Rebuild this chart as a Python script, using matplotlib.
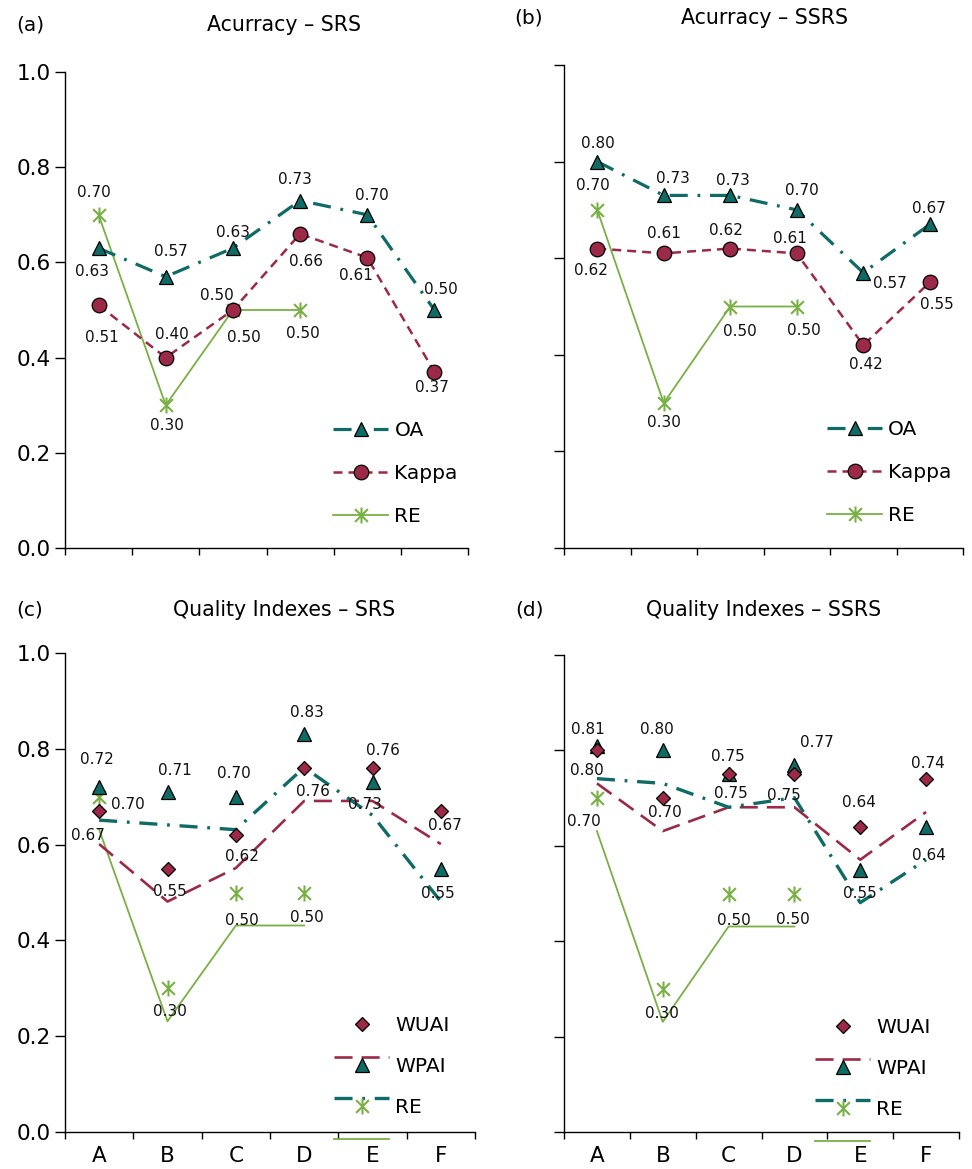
import matplotlib
matplotlib.use("Agg")
import matplotlib.pyplot as plt
from matplotlib.lines import Line2D
from matplotlib.path import Path
from matplotlib.legend_handler import HandlerLine2DCompound
from matplotlib.transforms import Affine2D, ScaledTranslation
import numpy as np

plt.rcParams['font.family'] = ['DejaVu Sans']
plt.rcParams['lines.scale_dashes'] = False

# ---- data ----
categories = ['A', 'B', 'C', 'D', 'E', 'F']

srs_oa = [0.63, 0.57, 0.63, 0.73, 0.70, 0.50]
srs_kappa = [0.51, 0.40, 0.50, 0.66, 0.61, 0.37]
srs_re = [0.70, 0.30, 0.50, 0.50]

ssrs_oa = [0.80, 0.73, 0.73, 0.70, 0.57, 0.67]
ssrs_kappa = [0.62, 0.61, 0.62, 0.61, 0.42, 0.55]
ssrs_re = [0.70, 0.30, 0.50, 0.50]

srs_wuai = [0.67, 0.55, 0.62, 0.76, 0.76, 0.67]
srs_wpai = [0.72, 0.71, 0.70, 0.83, 0.73, 0.55]
ssrs_wuai = [0.80, 0.70, 0.75, 0.75, 0.64, 0.74]
ssrs_wpai = [0.81, 0.80, 0.75, 0.77, 0.55, 0.64]

y_ticks = [0.0, 0.2, 0.4, 0.6, 0.8, 1.0]

# ---- styles ----
TEAL = '#0f6b65'
CRIMSON = '#9b2947'
GREEN = '#79b044'
W, H = 972, 1169
DASHDOT = (0, (13, 7, 2, 7))
DASH_K = (0, (6.5, 4.3))
DASH_LONG = (0, (13, 6.5))

# star marker: vertical bar crossed by an X
STAR = Path([(0, -1), (0, 1), (-0.8, -0.8), (0.8, 0.8), (-0.8, 0.8), (0.8, -0.8)],
            [Path.MOVETO, Path.LINETO, Path.MOVETO, Path.LINETO, Path.MOVETO, Path.LINETO])
STAR_KW = dict(marker=STAR, ms=11.5, mec=GREEN, mfc='none', mew=1.5)

fig = plt.figure(figsize=(W / 100, H / 100), dpi=100)


def px_rect(l, t, r, b):
    return [l / W, 1 - b / H, (r - l) / W, (b - t) / H]


def fig_text(x, y, s, **kw):
    fig.text(x / W, 1 - y / H, s, ha='center', va='center', **kw)


def setup_axes(rect, ylabels, xlabels):
    ax = fig.add_axes(px_rect(*rect))
    ax.set_xlim(-0.5, len(categories) - 0.5)
    ax.set_ylim(0, 1.0)
    for s in ('top', 'right'):
        ax.spines[s].set_visible(False)
    for s in ('left', 'bottom'):
        ax.spines[s].set_linewidth(1.0)
    ax.set_yticks(y_ticks)
    if ylabels:
        ax.set_yticklabels([f'{v:.1f}' for v in y_ticks], fontsize=15.5)
    else:
        ax.set_yticklabels([])
    ax.tick_params(axis='y', direction='out', length=7, width=1, pad=3)
    edges = np.arange(len(categories) + 1) - 0.5
    ax.set_xticks(edges)
    ax.set_xticklabels([])
    ax.tick_params(axis='x', which='major', direction='out', length=5, width=1)
    ax.set_xticks(np.arange(len(categories)), minor=True)
    if xlabels:
        ax.set_xticklabels(categories, minor=True, fontsize=15.5)
    ax.tick_params(axis='x', which='minor', length=0, pad=10)
    return ax


def put_labels(ax, values, offsets):
    for i, (v, off) in enumerate(zip(values, offsets)):
        if off is None:
            continue
        ax.annotate(f'{v:.2f}', (i, v), xytext=off, textcoords='offset pixels',
                    ha='center', va='center', fontsize=11, color='#111111')


class ShiftedLineHandler(HandlerLine2DCompound):
    """Legend handle whose line part sits lower than its marker."""

    def __init__(self, shift_pt, **kw):
        super().__init__(**kw)
        self.shift_pt = shift_pt

    def create_artists(self, legend, orig_handle, xdescent, ydescent,
                       width, height, fontsize, trans):
        arts = super().create_artists(legend, orig_handle, xdescent, ydescent,
                                      width, height, fontsize, trans)
        arts[0].set_transform(Affine2D().translate(0, -self.shift_pt) + trans)
        return arts


# ---------------- accuracy panels ----------------
def accuracy_panel(rect, oa, kappa, re, ylabels, offs, legend_anchor):
    ax = setup_axes(rect, ylabels, False)
    x6 = np.arange(len(oa))
    x4 = np.arange(len(re))
    l_re, = ax.plot(x4, re, color=GREEN, lw=1.3, zorder=3, label='RE', **STAR_KW)
    l_k, = ax.plot(x6, kappa, color=CRIMSON, lw=1.8, linestyle=DASH_K, marker='o',
                   ms=10.5, mfc=CRIMSON, mec='black', mew=0.9, zorder=4, label='Kappa')
    l_oa, = ax.plot(x6, oa, color=TEAL, lw=2.3, linestyle=DASHDOT, marker='^',
                    ms=9.5, mfc=TEAL, mec='black', mew=0.9, zorder=5, label='OA')
    put_labels(ax, oa, offs['oa'])
    put_labels(ax, kappa, offs['kappa'])
    put_labels(ax, re, offs['re'])
    ax.legend(handles=[l_oa, l_k, l_re], loc='upper left', bbox_to_anchor=legend_anchor,
              frameon=False, fontsize=14.5, numpoints=1, handlelength=2.75,
              handletextpad=0.3, labelspacing=1.2, borderpad=0, borderaxespad=0)
    return ax


offs_a = {
    'oa': [(-7, -23), (5, 25), (0, 16), (-5, 21), (5, 19), (6, 20)],
    'kappa': [(3, -32), (6, 23), (-16, 14), (6, -28), (-11, -18), (-2, -16)],
    're': [(-5, 22), (1, -20), (11, -27), (3, -23)],
}
offs_b = {
    'oa': [(1, 18), (9, 17), (3, 15), (5, 19), (27, -11), (-1, 16)],
    'kappa': [(-6, -22), (0, 20), (-4, 18), (-7, 15), (3, -19), (7, -22)],
    're': [(-4, 24), (0, -19), (10, -25), (7, -24)],
}

accuracy_panel((65, 72, 468, 548), srs_oa, srs_kappa, srs_re, True, offs_a, (0.665, 0.267))
accuracy_panel((564, 65, 963, 548), ssrs_oa, ssrs_kappa, ssrs_re, False, offs_b, (0.659, 0.265))

# ---------------- quality index panels ----------------
LINE_DROP_PX = 33


def quality_panel(rect, wuai, wpai, re, ylabels, offs, legend_anchor):
    ax = setup_axes(rect, ylabels, True)
    x6 = np.arange(len(wuai))
    x4 = np.arange(len(re))
    drop = ax.transData + ScaledTranslation(0, -LINE_DROP_PX / 100, fig.dpi_scale_trans)
    # connecting lines
    ax.plot(x4, re, color=GREEN, lw=1.3, transform=drop, zorder=2, clip_on=False)
    ax.plot(x6, wuai, color=CRIMSON, lw=1.9, linestyle=DASH_LONG, transform=drop, zorder=2)
    ax.plot(x6, wpai, color=TEAL, lw=2.4, linestyle=DASHDOT, transform=drop, zorder=2)
    # markers
    ax.plot(x4, re, linestyle='none', zorder=3, **STAR_KW)
    ax.plot(x6, wpai, linestyle='none', marker='^', ms=9.5, mfc=TEAL, mec='black',
            mew=0.9, zorder=4)
    ax.plot(x6, wuai, linestyle='none', marker='D', ms=7.2, mfc=CRIMSON, mec='black',
            mew=0.9, zorder=5)
    put_labels(ax, wpai, offs['wpai'])
    put_labels(ax, wuai, offs['wuai'])
    put_labels(ax, re, offs['re'])
    h_wuai = Line2D([], [], color=CRIMSON, lw=1.9, linestyle=DASH_LONG, marker='D', ms=7.2,
                    mfc=CRIMSON, mec='black', mew=0.9, label='WUAI')
    h_wpai = Line2D([], [], color=TEAL, lw=2.4, linestyle=DASHDOT, marker='^', ms=9.5,
                    mfc=TEAL, mec='black', mew=0.9, label='WPAI')
    h_re = Line2D([], [], color=GREEN, lw=1.3, label='RE', **STAR_KW)
    handler = ShiftedLineHandler(LINE_DROP_PX * 72 / 100, numpoints=1)
    ax.legend(handles=[h_wuai, h_wpai, h_re], loc='upper left', bbox_to_anchor=legend_anchor,
              frameon=False, fontsize=14.5, numpoints=1, handlelength=2.75,
              handletextpad=0.3, labelspacing=1.1, borderpad=0, borderaxespad=0,
              handler_map={h_wuai: handler, h_wpai: handler, h_re: handler})
    return ax


offs_c = {
    'wpai': [(-2, 28), (7, 21), (-2, 23), (3, 22), (-8, -22), (-3, -25)],
    'wuai': [(-11, -24), (2, -23), (6, -21), (9, -24), (10, 17), (4, -14)],
    're': [(29, -8), (2, -23), (6, -28), (3, -25)],
}
offs_d = {
    'wpai': [(-9, 16), (-6, 21), (-1, 18), (22, 22), (0, -24), (3, -29)],
    'wuai': [(-10, -20), (2, -14), (2, -19), (-11, -21), (-1, 24), (2, 16)],
    're': [(-13, -23), (-1, -25), (5, -27), (-2, -26)],
}

quality_panel((65, 653, 475, 1132), srs_wuai, srs_wpai, srs_re, True, offs_c, (0.656, 0.242))
quality_panel((564, 655, 959, 1132), ssrs_wuai, ssrs_wpai, ssrs_re, False, offs_d, (0.635, 0.239))

# ---------------- titles ----------------
fig_text(30, 25, '(a)', fontsize=14.5)
fig_text(284, 25, 'Acurracy – SRS', fontsize=14.8)
fig_text(529, 18, '(b)', fontsize=14.5)
fig_text(764, 18, 'Acurracy – SSRS', fontsize=14.8)
fig_text(30, 610, '(c)', fontsize=14.5)
fig_text(284, 610, 'Quality Indexes – SRS', fontsize=14.8)
fig_text(529, 610, '(d)', fontsize=14.5)
fig_text(764, 610, 'Quality Indexes – SSRS', fontsize=14.8)

fig.savefig('out.png', dpi=100)
